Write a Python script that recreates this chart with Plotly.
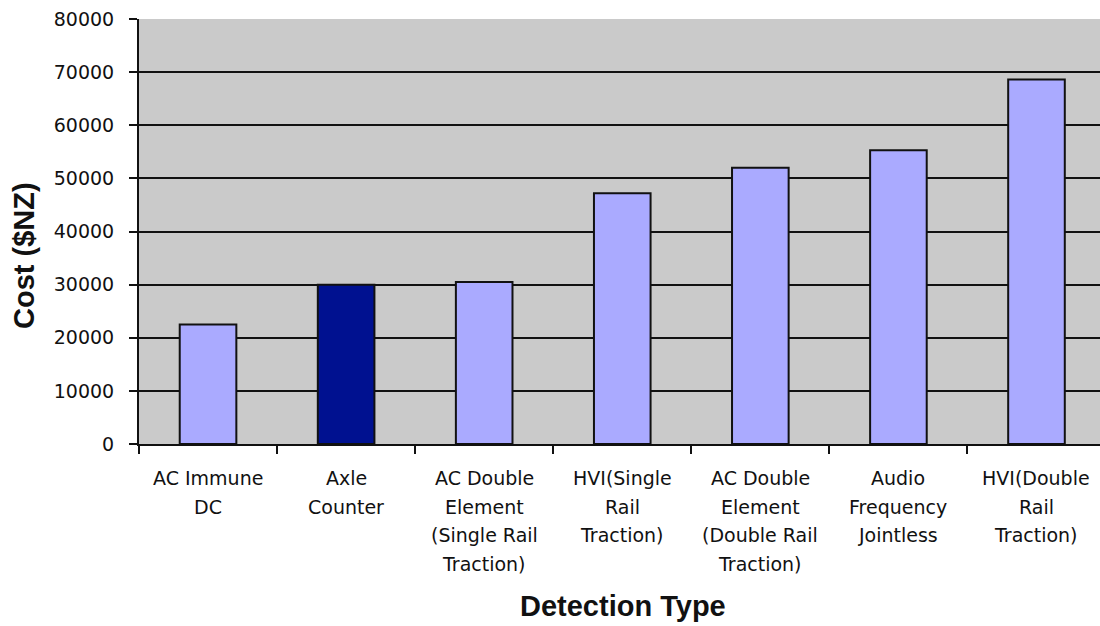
import plotly.graph_objects as go

# Installed cost of each train-detection technology (NZ dollars)
categories = [
    "AC Immune DC",
    "Axle Counter",
    "AC Double Element (Single Rail Traction)",
    "HVI(Single Rail Traction)",
    "AC Double Element (Double Rail Traction)",
    "Audio Frequency Jointless",
    "HVI(Double Rail Traction)",
]
# Wrapped form of each category label, one entry per printed line
label_lines = [
    ["AC Immune", "DC"],
    ["Axle", "Counter"],
    ["AC Double", "Element", "(Single Rail", "Traction)"],
    ["HVI(Single", "Rail", "Traction)"],
    ["AC Double", "Element", "(Double Rail", "Traction)"],
    ["Audio", "Frequency", "Jointless"],
    ["HVI(Double", "Rail", "Traction)"],
]
costs = [22500, 30000, 30500, 47200, 52000, 55300, 68600]
y_ticks = [0, 10000, 20000, 30000, 40000, 50000, 60000, 70000, 80000]
highlighted = "Axle Counter"

LIGHT = "#AAAAFF"
DARK = "#001190"
bar_colors = [DARK if c == highlighted else LIGHT for c in categories]

# Canvas and plot-area geometry (pixels)
W, H = 1100, 626
L, R, T, B = 139, 0, 19, 182
pw, ph = W - L - R, H - T - B


def px_x(x):
    return (x - L) / pw


def px_y(y):
    return (H - y - B) / ph


fig = go.Figure(
    go.Bar(
        x=categories,
        y=costs,
        marker=dict(color=bar_colors, line=dict(color="#111111", width=2)),
        showlegend=False,
    )
)

TEXT = "#111111"
TICK_FONT = dict(family="DejaVu Sans", size=19, color=TEXT)
TITLE_FONT = dict(family="Liberation Sans", size=29, color=TEXT)

# Category labels: one annotation per wrapped line for wider line spacing
annotations = []
for cat, lines in zip(categories, label_lines):
    for i, line in enumerate(lines):
        annotations.append(
            dict(
                x=cat, xref="x", y=0, yref="paper",
                text=line, showarrow=False,
                xanchor="center", yanchor="middle",
                yshift=-34 - 28.5 * i,
                font=dict(family="DejaVu Sans", size=19, color=TEXT),
            )
        )

# Axis titles
annotations.append(
    dict(
        x=px_x(24), xref="paper", y=px_y(256), yref="paper",
        text="<b>Cost ($NZ)</b>", textangle=-90, showarrow=False,
        xanchor="center", yanchor="middle", font=TITLE_FONT,
    )
)
annotations.append(
    dict(
        x=px_x(623), xref="paper", y=px_y(606), yref="paper",
        text="<b>Detection Type</b>", showarrow=False,
        xanchor="center", yanchor="middle", font=TITLE_FONT,
    )
)

fig.update_layout(
    width=W,
    height=H,
    margin=dict(l=L, r=R, t=T, b=B, pad=0),
    paper_bgcolor="white",
    plot_bgcolor="#CACACA",
    bargap=0.59,
    annotations=annotations,
    xaxis=dict(
        range=[-0.5, 6.46],
        showticklabels=False,
        ticks="outside",
        tickson="boundaries",
        ticklen=8,
        tickwidth=1.5,
        tickcolor=TEXT,
        showline=True,
        linecolor=TEXT,
        linewidth=2,
        showgrid=False,
        automargin=False,
    ),
    yaxis=dict(
        range=[0, 80000],
        tickvals=y_ticks,
        ticktext=[str(v) for v in y_ticks],
        tickfont=TICK_FONT,
        ticks="outside",
        ticklen=8,
        tickwidth=1.5,
        tickcolor=TEXT,
        ticklabelstandoff=11,
        showline=True,
        linecolor=TEXT,
        linewidth=2,
        showgrid=True,
        gridcolor=TEXT,
        gridwidth=2,
        zeroline=False,
        automargin=False,
    ),
)

fig.write_html("out.html")
